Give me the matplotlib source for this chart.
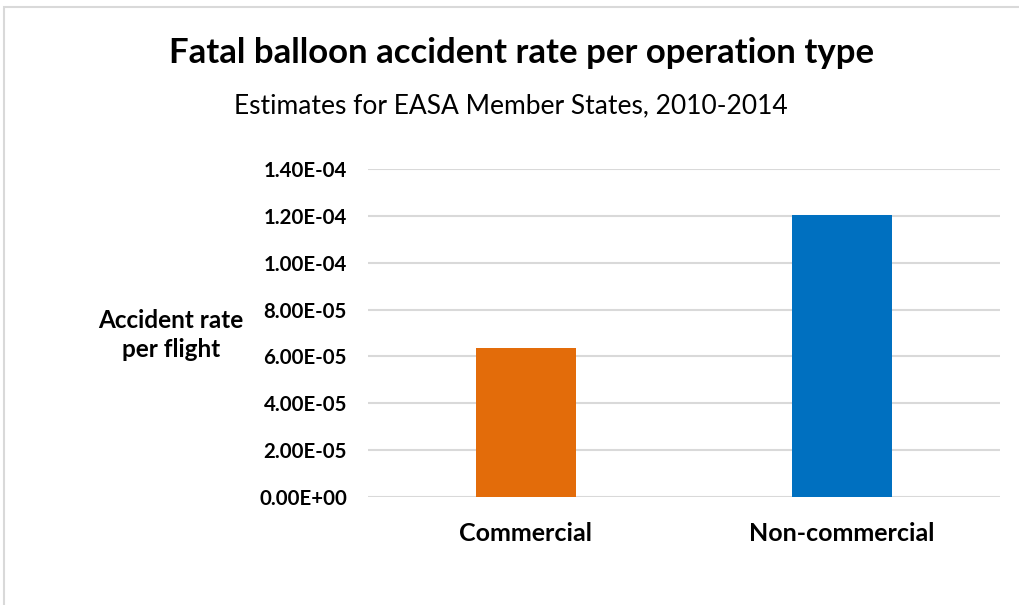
import matplotlib.pyplot as plt
from matplotlib.patches import Rectangle

plt.rcParams['font.family'] = ['Lato', 'DejaVu Sans']

categories = ['Commercial', 'Non-commercial']
rates = [6.36e-05, 1.205e-04]
colors = ['#E36C0A', '#0070C0']
yticks = [0, 2e-05, 4e-05, 6e-05, 8e-05, 1e-04, 1.2e-04, 1.4e-04]

fig = plt.figure(figsize=(10.19, 6.05), dpi=100)
ax = fig.add_axes([0.361, 0.1785, 0.62, 0.5422])

x = range(len(categories))
ax.bar(x, rates, width=0.316, color=colors, zorder=3)
ax.set_xlim(-0.5, 1.5)
ax.set_ylim(0, 1.4e-04)
ax.set_yticks(yticks)
ax.set_yticklabels(['%.2E' % v for v in yticks], fontsize=14.7, fontweight='bold')
ax.set_xticks(list(x))
ax.set_xticklabels(categories, fontsize=18, fontweight='bold')
ax.tick_params(axis='y', length=0, pad=15)
ax.tick_params(axis='x', length=0, pad=18)
ax.grid(axis='y', color='#d9d9d9', linewidth=1.5, zorder=0)
for s in ax.spines.values():
    s.set_visible(False)

fig.text(0.512, 0.913, 'Fatal balloon accident rate per operation type',
         ha='center', va='center', fontsize=25, fontweight='bold')
fig.text(0.501, 0.825, 'Estimates for EASA Member States, 2010-2014',
         ha='center', va='center', fontsize=19)
fig.text(0.168, 0.446, 'Accident rate\nper flight', ha='center', va='center',
         fontsize=17.5, fontweight='bold', linespacing=1.3)

fig.patches.append(Rectangle((4 / 1019, -0.1), 1.2, 1 - 7 / 605 + 0.1,
                             transform=fig.transFigure, fill=False,
                             edgecolor='#d9d9d9', linewidth=1.5))

fig.savefig('out.png', dpi=100)
